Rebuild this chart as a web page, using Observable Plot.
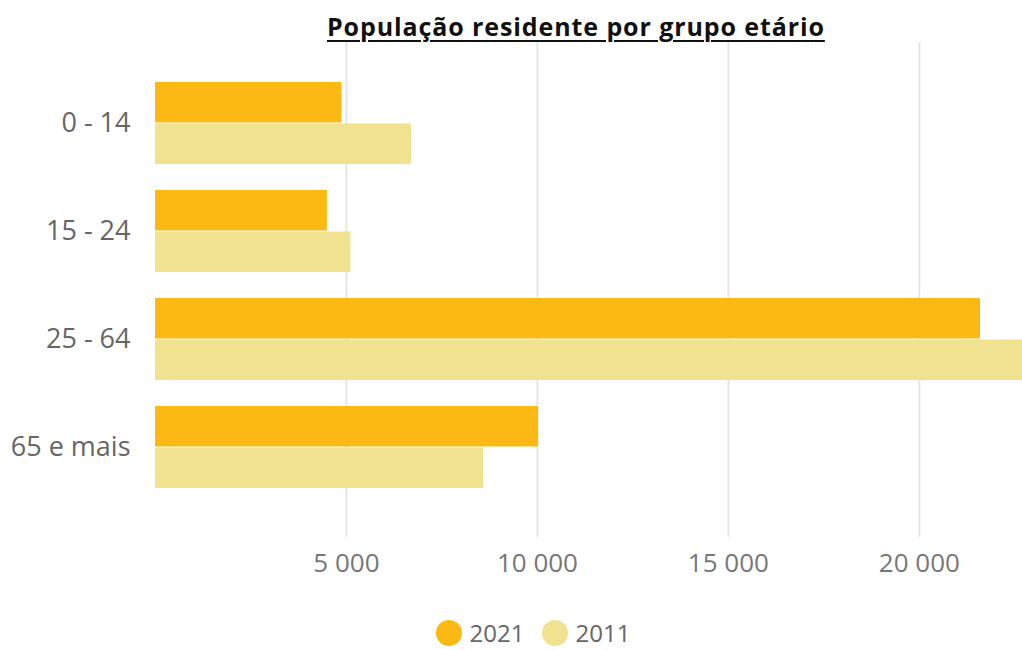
<!DOCTYPE html>
<html>
<head>
<meta charset="utf-8">
<script src="https://cdn.jsdelivr.net/npm/d3@7"></script>
<script src="https://cdn.jsdelivr.net/npm/@observablehq/plot@0.6"></script>
<style>
  body { margin: 0; background: #fff; font-family: "Open Sans", sans-serif; width: 1022px; overflow: hidden; }
  #title { height: 42px; position: relative; }
  #title span { position: absolute; left: 327px; top: 13px; line-height: 26px; font-size: 25px; letter-spacing: 0.9px; font-weight: 700; text-decoration: underline; text-decoration-thickness: 2px; text-underline-offset: 4px; color: #111; white-space: nowrap; }
  #chart svg { display: block; overflow: hidden; }
  #chart text { font-family: "Open Sans", sans-serif; }
  #legend { display: flex; justify-content: center; align-items: center; margin-top: 20px; padding-left: 45px; height: 32px; }
  .item { display: flex; align-items: center; margin: 0 8px; }
  .dot { width: 26px; height: 26px; border-radius: 50%; margin-right: 7px; }
  .lab { font-size: 24px; color: #666; line-height: 32px; padding: 0 1px; }
</style>
</head>
<body>
<div id="title"><span>População residente por grupo etário</span></div>
<div id="chart"></div>
<div id="legend"></div>
<script>
const groups = ["0 - 14", "15 - 24", "25 - 64", "65 e mais"];
const years = ["2021", "2011"];
const values2021 = [4880, 4500, 21600, 10030];
const values2011 = [6700, 5115, 22700, 8590];
const colors = ["#FDB913", "#F0E28E"];
const xTicks = [5000, 10000, 15000, 20000];
const xMax = 22700;

const data2021 = groups.map((g, i) => ({group: g, year: years[0], value: values2021[i]}));
const data2011 = groups.map((g, i) => ({group: g, year: years[1], value: values2011[i]}));

const fmt = d => d3.format(",")(d).replace(/,/g, " ");
const half = 41.5;

const chart = Plot.plot({
  width: 1022,
  height: 555,
  marginTop: 0,
  marginBottom: 60,
  marginLeft: 155,
  marginRight: 0,
  style: {background: "#fff", color: "#666"},
  x: {domain: [0, xMax], label: null},
  y: {domain: groups, label: null, paddingInner: 0.2385, paddingOuter: 0.39, align: 0.447},
  color: {domain: years, range: colors},
  marks: [
    Plot.gridX(xTicks, {stroke: "#e6e6e6", strokeOpacity: 1, strokeWidth: 2}),
    Plot.barX(data2021, {x: "value", y: "group", fill: "year", insetBottom: half}),
    Plot.barX(data2011, {x: "value", y: "group", fill: "year", insetTop: half}),
    Plot.axisX(xTicks, {tickSize: 0, tickPadding: 16, tickFormat: fmt, fontSize: 26, fill: "#777", label: null}),
    Plot.axisY({tickSize: 0, tickPadding: 25, fontSize: 27, fill: "#666", label: null})
  ]
});
document.getElementById("chart").appendChild(chart);

const legend = document.getElementById("legend");
years.forEach((y, i) => {
  const it = document.createElement("div");
  it.className = "item";
  it.innerHTML = `<div class="dot" style="background:${colors[i]}"></div><span class="lab">${y}</span>`;
  legend.appendChild(it);
});
</script>
</body>
</html>
